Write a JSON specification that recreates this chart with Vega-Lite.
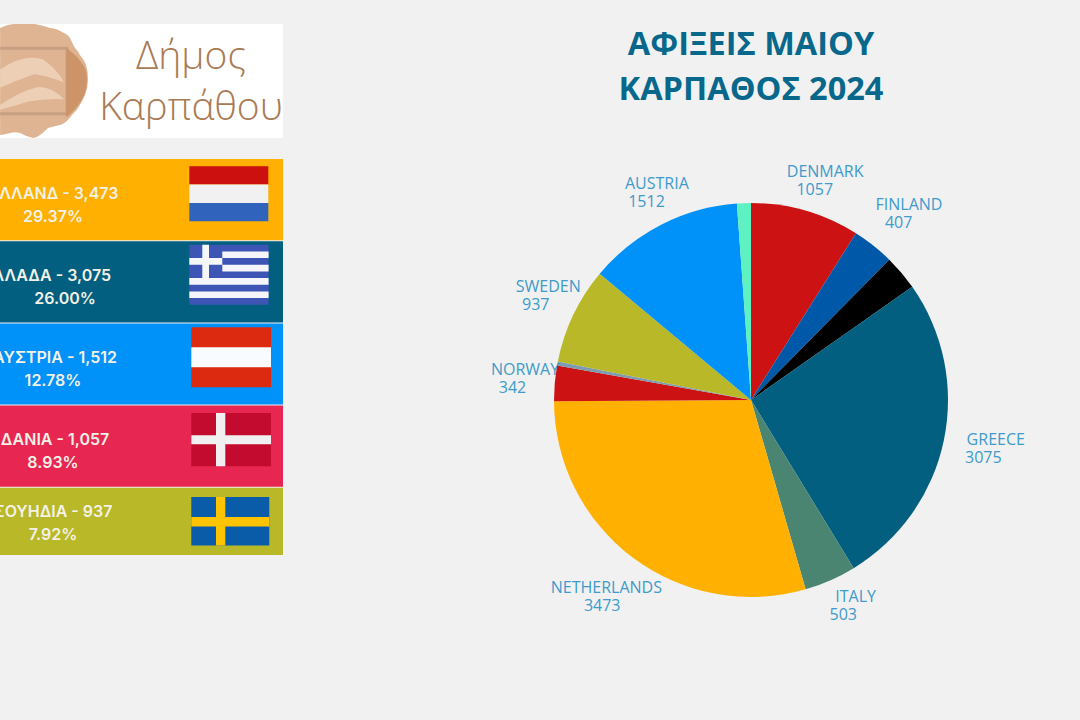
{
"$schema":"https://vega.github.io/schema/vega-lite/v6.json",
"background":"#F1F1F1",
"padding":{"left":0,"top":24,"right":0,"bottom":40},
"config":{"view":{"stroke":null}},
"spacing":139,
"resolve":{"scale":{"color":"independent","fill":"independent","shape":"independent","radius":"independent"}},
"hconcat":[
{"spacing":21,
 "resolve":{"scale":{"color":"independent","fill":"independent","shape":"independent"}},
 "vconcat":[
 {"width":283,"height":114,"view":{"fill":"#FFFFFF"},
  "layer":[
  {"data":{"values":[{"part":"coin"},{"part":"shade"},{"part":"frame"},{"part":"dolphinA"},{"part":"dolphinB"}]},
   "mark":{"type":"point","filled":true,"opacity":1,"size":12996,"clip":true},
   "encoding":{
    "x":{"datum":40,"type":"quantitative","scale":{"domain":[0,283],"nice":false},"axis":null},
    "y":{"datum":57,"type":"quantitative","scale":{"domain":[114,0],"nice":false},"axis":null},
    "order":{"field":"part"},
    "color":{"field":"part","type":"nominal","legend":null,"scale":{"domain":["coin","shade","frame","dolphinA","dolphinB"],"range":["#DFB493","#CC9468","#C79F82","#EDCFB6","#EDCFB6"]}},
    "shape":{"field":"part","type":"nominal","legend":null,"scale":{"domain":["coin","shade","frame","dolphinA","dolphinB"],"range":[
     "M-.7,-.93 Q-.55,-1 -.44,-1 L-.09,-1 Q.05,-.97 .175,-.93 Q.3,-.92 .386,-.86 Q.49,-.82 .526,-.754 Q.57,-.66 .614,-.579 Q.68,-.52 .7,-.456 Q.78,-.37 .807,-.281 Q.85,-.15 .842,-.018 Q.84,.13 .789,.246 Q.75,.34 .7,.421 Q.65,.52 .561,.596 Q.46,.74 .351,.772 Q.24,.8 .14,.825 Q.07,.9 0,.947 Q-.06,1 -.123,1 Q-.25,.97 -.351,.912 Q-.44,.89 -.526,.912 Q-.62,.94 -.7,.947 Z",
     "M.46,-.58 Q.7,-.42 .8,-.2 Q.86,0 .78,.24 Q.68,.46 .46,.64 Z",
     "M-.7,-.6 L.5,-.6 L.5,.6 L-.7,.6 Z M-.7,-.55 L-.7,.55 L.45,.55 L.45,-.55 Z",
     "M-.7,-.2 Q-.3,-.48 .05,-.38 Q.3,-.2 .42,.02 Q.1,-.1 -.1,-.12 Q-.4,-.02 -.7,.12 Z",
     "M-.7,.42 Q-.35,.18 -.02,.1 Q.25,.12 .42,.32 Q.1,.3 -.2,.36 Q-.45,.44 -.7,.5 Z"
    ]}}
   }},
  {"data":{"values":[{"line":"Δήμος"},{"line":"Καρπάθου"}]},
   "mark":{"type":"text","font":"Open Sans","fontSize":39,"fontWeight":300,"color":"#A97B55","align":"center","baseline":"middle","clip":true},
   "encoding":{
    "x":{"datum":191,"type":"quantitative","scale":{"domain":[0,283],"nice":false}},
    "y":{"field":"line","type":"nominal","scale":{"type":"point","padding":0,"domain":["Δήμος","Καρπάθου"],"range":[33,84]},"axis":null},
    "text":{"field":"line"}
   }}
  ],
  "resolve":{"scale":{"y":"independent","color":"independent","shape":"independent"}}
 },
 {"width":283,"height":396,
  "layer":[
  {"data":{"name":"rows","values":[
    {"row":"NL","label":"ΟΛΛΑΝΔ - 3,473","share":"29.37%"},
    {"row":"GR","label":"ΕΛΛΑΔΑ - 3,075\u00a0\u00a0\u00a0\u200b","share":"\u200b\u00a0\u00a0\u00a0\u00a0\u00a0\u00a026.00%"},
    {"row":"AT","label":"\u200b\u00a0ΑΥΣΤΡΙΑ - 1,512","share":"12.78%"},
    {"row":"DK","label":"\u200b\u00a0ΔΑΝΙΑ - 1,057","share":"8.93%"},
    {"row":"SE","label":"ΣΟΥΗΔΙΑ - 937","share":"7.92%"}
   ]},
   "mark":{"type":"rect","clip":true},
   "encoding":{
    "y":{"field":"row","type":"nominal","axis":null,"scale":{"type":"band","domain":["NL","GR","AT","DK","SE"],"range":[0,410],"paddingInner":0.012,"paddingOuter":0}},
    "color":{"field":"row","type":"nominal","legend":null,"scale":{"domain":["NL","GR","AT","DK","SE"],"range":["#FFB000","#025F80","#0091F9","#E82652","#B8B828"]}}
   }},
  {"data":{"values":[
    {"row":"NL","part":"nlRed"},{"row":"NL","part":"nlWhite"},{"row":"NL","part":"nlBlue"},
    {"row":"GR","part":"grBlue"},{"row":"GR","part":"grWhite"},
    {"row":"AT","part":"atRed"},{"row":"AT","part":"atWhite"},
    {"row":"DK","part":"dkRed"},{"row":"DK","part":"dkWhite"},
    {"row":"SE","part":"seBlue"},{"row":"SE","part":"seYellow"}
   ]},
   "mark":{"type":"point","filled":true,"opacity":1,"size":6400},
   "encoding":{
    "x":{"datum":230,"type":"quantitative","scale":{"domain":[0,283],"nice":false},"axis":null},
    "y":{"field":"row","type":"nominal","axis":null,"scale":{"type":"band","domain":["NL","GR","AT","DK","SE"],"range":[0,410],"paddingInner":0.012,"paddingOuter":0}},
    "fill":{"field":"part","type":"nominal","legend":null,"scale":{"domain":["nlRed","nlWhite","nlBlue","grBlue","grWhite","atRed","atWhite","dkRed","dkWhite","seBlue","seYellow"],"range":["#CC1010","#F1F1F1","#3064BC","#3D55B5","#F4F6FA","#DB2A0F","#F8FBFF","#C30A2F","#F0F0F0","#0A5CA8","#FFC400"]}},
    "shape":{"field":"part","type":"nominal","legend":null,"scale":{"domain":["nlRed","nlWhite","nlBlue","grBlue","grWhite","atRed","atWhite","dkRed","dkWhite","seBlue","seYellow"],"range":[
     "M-1.017,-.8325 L.958,-.8325 L.958,-.375 L-1.017,-.375 Z",
     "M-1.017,-.375 L.958,-.375 L.958,.0825 L-1.017,.0825 Z",
     "M-1.017,.0825 L.958,.0825 L.958,.5425 L-1.017,.5425 Z",
     "M-1.0175,-.925 L.965,-.925 L.965,.575 L-1.0175,.575 Z",
     "M-.1925,-.7575 L.965,-.7575 L.965,-.5925 L-.1925,-.5925 Z M-.1925,-.425 L.965,-.425 L.965,-.2575 L-.1925,-.2575 Z M-1.0175,-.0925 L.965,-.0925 L.965,.075 L-1.0175,.075 Z M-1.0175,.2425 L.965,.2425 L.965,.4075 L-1.0175,.4075 Z M-.6925,-.925 L-.525,-.925 L-.525,-.0925 L-.6925,-.0925 Z M-1.0175,-.5925 L-.1925,-.5925 L-.1925,-.425 L-1.0175,-.425 Z",
     "M-.9675,-.9175 L1.025,-.9175 L1.025,.5825 L-.9675,.5825 Z",
     "M-.9675,-.4175 L1.025,-.4175 L1.025,.0825 L-.9675,.0825 Z",
     "M-.9675,-.8325 L1.025,-.8325 L1.025,.5 L-.9675,.5 Z",
     "M-.35,-.8325 L-.1175,-.8325 L-.1175,.5 L-.35,.5 Z M-.9675,-.275 L1.025,-.275 L1.025,-.05 L-.9675,-.05 Z",
     "M-.9675,-.7825 L.9825,-.7825 L.9825,.425 L-.9675,.425 Z",
     "M-.35,-.7825 L-.1175,-.7825 L-.1175,.425 L-.35,.425 Z M-.9675,-.2825 L.9825,-.2825 L.9825,-.05 L-.9675,-.05 Z"
    ]}},
    "order":{"field":"part"}
   }},
  {"data":{"name":"rows"},
   "transform":[{"filter":"datum.row !== 'SE'"}],
   "mark":{"type":"text","font":"Inter","fontSize":16,"fontWeight":600,"color":"#F4F1E6","align":"center","baseline":"middle","dy":-6,"clip":true},
   "encoding":{"x":{"datum":53,"type":"quantitative","scale":{"domain":[0,283],"nice":false}},"y":{"field":"row","type":"nominal"},"text":{"field":"label"}}},
  {"data":{"name":"rows"},
   "transform":[{"filter":"datum.row !== 'SE'"}],
   "mark":{"type":"text","font":"Inter","fontSize":16,"fontWeight":600,"color":"#F4F1E6","align":"center","baseline":"middle","dy":17,"clip":true},
   "encoding":{"x":{"datum":53,"type":"quantitative","scale":{"domain":[0,283],"nice":false}},"y":{"field":"row","type":"nominal"},"text":{"field":"share"}}},
  {"data":{"name":"rows"},
   "transform":[{"filter":"datum.row === 'SE'"}],
   "mark":{"type":"text","font":"Inter","fontSize":16,"fontWeight":600,"color":"#F4F1E6","align":"center","baseline":"middle","dy":-16,"clip":true},
   "encoding":{"x":{"datum":53,"type":"quantitative","scale":{"domain":[0,283],"nice":false}},"y":{"field":"row","type":"nominal"},"text":{"field":"label"}}},
  {"data":{"name":"rows"},
   "transform":[{"filter":"datum.row === 'SE'"}],
   "mark":{"type":"text","font":"Inter","fontSize":16,"fontWeight":600,"color":"#F4F1E6","align":"center","baseline":"middle","dy":7,"clip":true},
   "encoding":{"x":{"datum":53,"type":"quantitative","scale":{"domain":[0,283],"nice":false}},"y":{"field":"row","type":"nominal"},"text":{"field":"share"}}}
  ]
 }
]},
{"spacing":13,
 "resolve":{"scale":{"color":"independent"}},
 "vconcat":[
 {"width":658,"height":83,
  "data":{"values":[{"title":"ΑΦΙΞΕΙΣ ΜΑΙΟΥ\nΚΑΡΠΑΘΟΣ 2024"}]},
  "mark":{"type":"text","font":"Open Sans","fontSize":32.5,"fontWeight":700,"color":"#07688C","align":"center","baseline":"middle","lineBreak":"\n","lineHeight":45,"dy":-21},
  "encoding":{"text":{"field":"title"}}
 },
 {"width":658,"height":560,
  "data":{"values":[
   {"country":"DENMARK","visitors":1057,"order":1,"label":"DENMARK\n\u200b1057\u00a0\u00a0\u00a0\u00a0\u00a0\u200b"},
   {"country":"FINLAND","visitors":407,"order":2,"label":"FINLAND\n\u200b407\u00a0\u00a0\u00a0\u00a0\u00a0\u200b"},
   {"country":"UNLABELLED A","visitors":340,"order":3,"label":""},
   {"country":"GREECE","visitors":3075,"order":4,"label":"GREECE\n\u200b3075\u00a0\u00a0\u00a0\u00a0\u00a0\u00a0\u200b"},
   {"country":"ITALY","visitors":503,"order":5,"label":"ITALY\n\u200b503\u00a0\u00a0\u00a0\u00a0\u00a0\u00a0\u200b"},
   {"country":"NETHERLANDS","visitors":3473,"order":6,"label":"NETHERLANDS\n\u200b3473\u00a0\u00a0\u200b"},
   {"country":"NORWAY","visitors":342,"order":7,"label":"NORWAY\n\u200b342\u00a0\u00a0\u00a0\u00a0\u00a0\u00a0\u200b"},
   {"country":"UNLABELLED B","visitors":40,"order":8,"label":""},
   {"country":"SWEDEN","visitors":937,"order":9,"label":"SWEDEN\n\u200b937\u00a0\u00a0\u00a0\u00a0\u00a0\u00a0\u200b"},
   {"country":"AUSTRIA","visitors":1512,"order":10,"label":"AUSTRIA\n\u200b1512\u00a0\u00a0\u00a0\u00a0\u00a0\u200b"},
   {"country":"UNLABELLED C","visitors":135,"order":11,"label":""}
  ]},
  "layer":[
   {"mark":{"type":"arc","radius":197},
    "encoding":{
     "theta":{"field":"visitors","type":"quantitative","stack":true},
     "order":{"field":"order","type":"quantitative"},
     "color":{"field":"country","type":"nominal","legend":null,"scale":{"domain":["DENMARK","FINLAND","UNLABELLED A","GREECE","ITALY","NETHERLANDS","NORWAY","UNLABELLED B","SWEDEN","AUSTRIA","UNLABELLED C"],"range":["#CC1212","#0059A8","#000000","#025F80","#4A8571","#FFB000","#CC1212","#7E9BB0","#B8B828","#0091F9","#5EF2C2"]}}
    }},
   {"transform":[{"filter":"datum.label !== ''"}],
    "mark":{"type":"text","font":"Open Sans","fontSize":16,"color":"#3E9BCB","align":"center","baseline":"middle","lineBreak":"\n","lineHeight":18},
    "encoding":{
     "theta":{"field":"visitors","type":"quantitative","stack":null,"scale":{"type":"linear","nice":false,"zero":false,"domain":[342,407,503,937,1057,1512,3075,3473],"range":[4.845,0.681,2.653,5.220,0.314,5.873,1.733,3.798]}},
     "radius":{"field":"visitors","type":"quantitative","stack":null,"scale":{"type":"linear","nice":false,"zero":false,"domain":[342,407,503,937,1057,1512,3075,3473],"range":[228,251,223,232,240,236,248,237]}},
     "text":{"field":"label"}
    }}
  ],
  "resolve":{"scale":{"theta":"independent","radius":"independent"}}
 }
]}
]
}
